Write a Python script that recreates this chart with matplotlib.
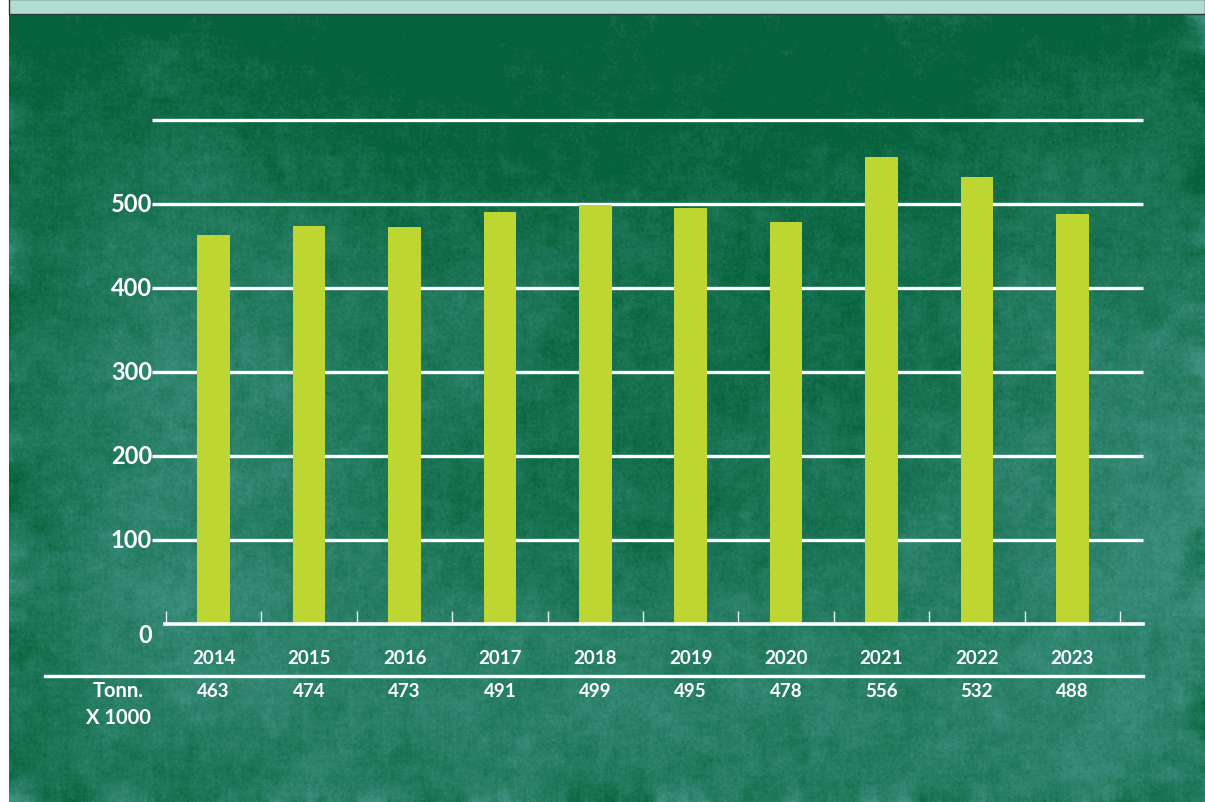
import numpy as np
import matplotlib
matplotlib.use("Agg")
import matplotlib.pyplot as plt
from matplotlib.patches import Rectangle

# ---- data -------------------------------------------------------------
years = ["2014", "2015", "2016", "2017", "2018", "2019", "2020", "2021", "2022", "2023"]
tonnes = [463, 474, 473, 491, 499, 495, 478, 556, 532, 488]
y_ticks = [0, 100, 200, 300, 400, 500]
grid_levels = [100, 200, 300, 400, 500, 600]
row_label = "Tonn.\nX 1000"

W, H = 1205, 803
BAR = "#bdd631"
CHALK = "#ffffff"
FONT = ["Lato", "DejaVu Sans"]

fig = plt.figure(figsize=(W / 100, H / 100), dpi=100)
fig.patch.set_facecolor("white")


def box_blur(a, r):
    """Separable box blur using cumulative sums."""
    for axis in (0, 1):
        pad = [(0, 0), (0, 0)]
        pad[axis] = (r + 1, r)
        p = np.pad(a, pad, mode="edge")
        c = np.cumsum(p, axis=axis)
        if axis == 0:
            a = (c[2 * r + 1:, :] - c[:-2 * r - 1, :]) / (2 * r + 1)
        else:
            a = (c[:, 2 * r + 1:] - c[:, :-2 * r - 1]) / (2 * r + 1)
    return a


def normed(a):
    return (a - a.mean()) / a.std()


# ---- chalkboard texture ------------------------------------------------
bx0, by0 = 9, 15
bw, bh = W - bx0, H - by0
yy, xx = np.mgrid[0:bh, 0:bw].astype(float)
yy += by0
xx += bx0

m = np.zeros((bh, bw))
blobs = [
    (170, 380, 110, 220, 0.55),
    (430, 330, 160, 110, 0.30),
    (1170, 470, 140, 320, 0.55),
    (650, 720, 330, 110, 0.35),
    (330, 640, 200, 110, 0.30),
    (900, 560, 220, 160, 0.22),
    (760, 250, 200, 90, 0.12),
]
for cx, cy, sx, sy, a in blobs:
    m += a * np.exp(-(((xx - cx) / sx) ** 2 + ((yy - cy) / sy) ** 2) / 2)
m += 0.18 * np.clip((yy - 120) / 680, 0, 1)
m -= 0.12 * np.clip((200 - yy) / 200, 0, 1)

rng = np.random.default_rng(7)
m += 0.07 * normed(box_blur(rng.normal(size=(bh, bw)), 25))
m += 0.05 * normed(box_blur(rng.normal(size=(bh, bw)), 6))
m += 0.05 * normed(box_blur(rng.normal(size=(bh, bw)), 1))
m += 0.03 * rng.normal(size=(bh, bw))
m = np.clip(m, 0, 1)

dark = np.array([6, 98, 58]) / 255
light = np.array([62, 145, 128]) / 255
img = dark + (light - dark) * m[..., None]

bg = fig.add_axes([bx0 / W, 0, bw / W, bh / H])
bg.imshow(np.clip(img, 0, 1), aspect="auto", interpolation="bilinear")
bg.set_axis_off()

# mint banner along the top
fig.patches.append(Rectangle((bx0 / W, 1 - 15 / H), 1 - bx0 / W, 15 / H,
                             transform=fig.transFigure, facecolor="#b1dcd0",
                             edgecolor="#2b3a35", linewidth=1.0, zorder=5))

# ---- chart axes ---------------------------------------------------------
ax_l, ax_r = 152, 1143
ax_t, ax_b = 121, 625
ax = fig.add_axes([ax_l / W, 1 - ax_b / H, (ax_r - ax_l) / W, (ax_b - ax_t) / H])
ax.set_facecolor("none")
for s in ax.spines.values():
    s.set_visible(False)
ax.set_xticks([])
ax.set_yticks([])

step = (1120 - 166) / 10  # pixels per category
x_left = -0.5 - (166 - ax_l) / step
x_right = 9.5 + (ax_r - 1120) / step
ax.set_xlim(x_left, x_right)
ax.set_ylim(0, 600)
upx = 600 / (ax_b - ax_t)  # data units per pixel


def px_x(p):
    return -0.5 + (p - 166) / step


x = np.arange(len(years))

# chalk grid lines
for g in grid_levels:
    ax.plot([x_left, x_right], [g, g], color=CHALK, lw=2.4,
            solid_capstyle="butt", clip_on=False, zorder=1)

# bars
ax.bar(x, tonnes, width=0.34, color=BAR, zorder=3)

# baseline and category ticks
ax.plot([px_x(165), x_right], [0, 0], color=CHALK, lw=2.6, clip_on=False, zorder=4)
ax.vlines(np.arange(-0.5, 10, 1), 0, 13 * upx, color="#e8efe9", lw=1.0, zorder=4)

# y labels
for t in y_ticks:
    dy = -11 * upx if t == 0 else 0
    ax.text(x_left, t + dy, str(t), ha="right", va="center", color="white",
            fontsize=17, fontfamily=FONT, fontweight="bold", clip_on=False)

# category row and value row
y_year = -(659 - ax_b) * upx
y_sep = -(677 - ax_b) * upx
y_val = -(692 - ax_b) * upx
for xi, yr, v in zip(x, years, tonnes):
    ax.text(xi, y_year, yr, ha="center", va="center", color="white",
            fontsize=13.5, fontfamily=FONT, fontweight="bold", clip_on=False)
    ax.text(xi, y_val, str(v), ha="center", va="center", color="white",
            fontsize=13.5, fontfamily=FONT, fontweight="bold", clip_on=False)

ax.plot([px_x(45), x_right], [y_sep, y_sep], color=CHALK, lw=2.4,
        clip_on=False, zorder=4)

ax.text(px_x(118), y_val + 11 * upx, row_label, ha="center", va="top", color="white",
        fontsize=14.5, fontfamily=FONT, fontweight="bold", linespacing=1.45,
        clip_on=False, transform=ax.transData)

fig.savefig("out.png", dpi=100)
